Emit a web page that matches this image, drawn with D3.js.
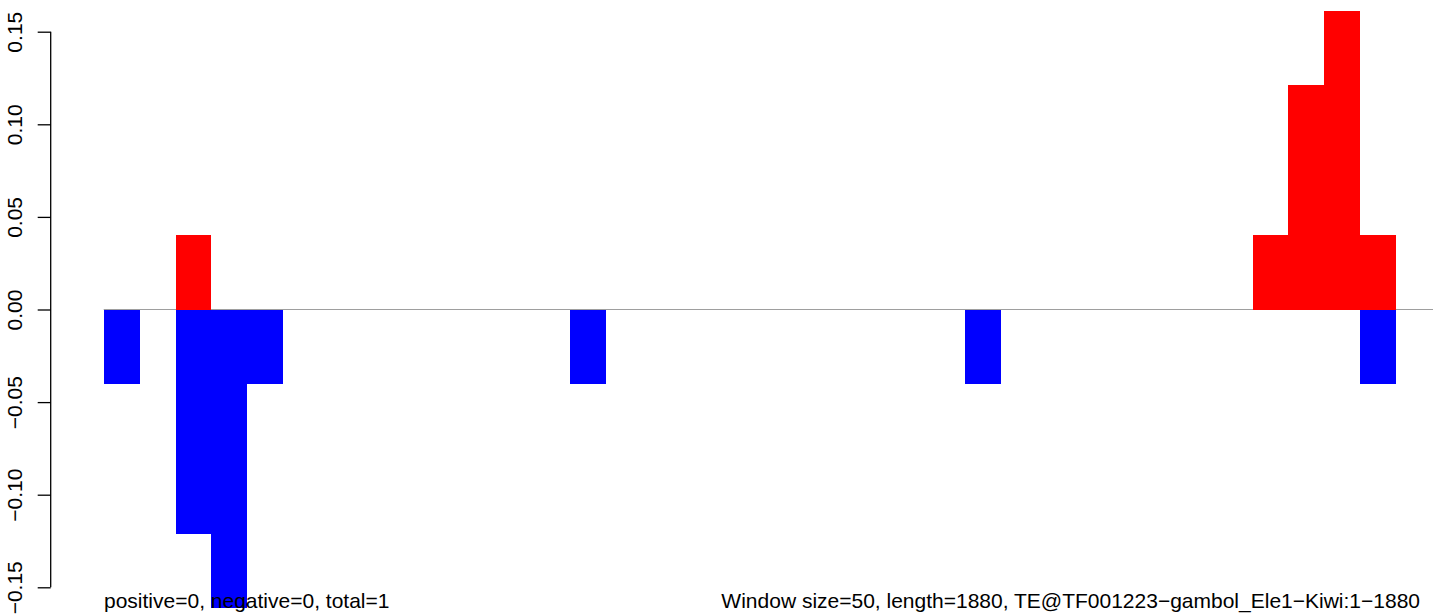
<!DOCTYPE html>
<html>
<head>
<meta charset="utf-8">
<script src="https://cdn.jsdelivr.net/npm/d3@7"></script>
<style>
  html, body { margin: 0; padding: 0; background: #fff; }
  svg { display: block; }
  text { font-family: "Liberation Sans", Arial, Helvetica, sans-serif; fill: #000; }
</style>
</head>
<body>
<svg id="chart" width="1433" height="615"></svg>
<script>
// ---- data ----
const windowSize = 50;
const seqLength = 1880;
// window index -> value (positive strand, red)
const positiveWindows = [2, 32, 33, 34, 35];
const positiveValues  = [0.0403, 0.0403, 0.121, 0.161, 0.0403];
// window index -> value (negative strand, blue)
const negativeWindows = [0, 2, 3, 4, 13, 24, 35];
const negativeValues  = [-0.0403, -0.121, -0.161, -0.0403, -0.0403, -0.0403, -0.0403];
const yTicks = [-0.15, -0.10, -0.05, 0.00, 0.05, 0.10, 0.15];
const yTickLabels = ["\u22120.15", "\u22120.10", "\u22120.05", "0.00", "0.05", "0.10", "0.15"];
const leftNote = "positive=0, negative=0, total=1";
const rightNote = "Window size=50, length=1880, TE@TF001223\u2212gambol_Ele1\u2212Kiwi:1\u22121880";

// ---- layout ----
const svg = d3.select("#chart");
const x = d3.scaleLinear().domain([0, seqLength]).range([103.7, 103.7 + seqLength * 0.718]);
const y = d3.scaleLinear().domain([-0.15, 0.15]).range([587.3, 31.7]);

// zero line
svg.append("line")
  .attr("x1", x(0)).attr("x2", x(seqLength))
  .attr("y1", y(0)).attr("y2", y(0))
  .attr("stroke", "#9e9e9e").attr("stroke-width", 1.2);

const pos = positiveWindows.map((w, i) => ({w, v: positiveValues[i]}));
const neg = negativeWindows.map((w, i) => ({w, v: negativeValues[i]}));

svg.append("g").selectAll("rect").data(pos).join("rect")
  .attr("x", d => x(d.w * windowSize))
  .attr("width", d => x((d.w + 1) * windowSize) - x(d.w * windowSize))
  .attr("y", d => y(d.v))
  .attr("height", d => y(0) - y(d.v))
  .attr("fill", "#ff0000")
  .attr("shape-rendering", "crispEdges");

svg.append("g").selectAll("rect").data(neg).join("rect")
  .attr("x", d => x(d.w * windowSize))
  .attr("width", d => x((d.w + 1) * windowSize) - x(d.w * windowSize))
  .attr("y", y(0))
  .attr("height", d => y(d.v) - y(0))
  .attr("fill", "#0000ff")
  .attr("shape-rendering", "crispEdges");

// y axis
const axisX = 50.7;
const yAxis = d3.axisLeft(y).tickValues(yTicks).tickSize(13).tickFormat((d, i) => yTickLabels[i]);
const ag = svg.append("g").attr("transform", `translate(${axisX},0)`).call(yAxis);
ag.select(".domain").attr("stroke", "#000").attr("stroke-width", 1.3)
  .attr("d", `M-13,${y(-0.15)}H0V${y(0.15)}H-13`).attr("d", `M0,${y(-0.15)}V${y(0.15)}`);
ag.selectAll(".tick line").attr("stroke", "#000").attr("stroke-width", 1.3);
ag.selectAll(".tick text")
  .attr("x", null).attr("dy", null)
  .attr("transform", `translate(${22 - axisX},0) rotate(-90)`)
  .attr("text-anchor", "middle")
  .style("font-family", "'Liberation Sans', Arial, sans-serif")
  .style("font-size", "21px")
  .attr("fill", "#000");

// notes
svg.append("text").attr("x", 104).attr("y", 608)
  .style("font-size", "21px").text(leftNote);
svg.append("text").attr("x", 1420).attr("y", 608)
  .attr("text-anchor", "end")
  .style("font-size", "21px").text(rightNote);
</script>
</body>
</html>
